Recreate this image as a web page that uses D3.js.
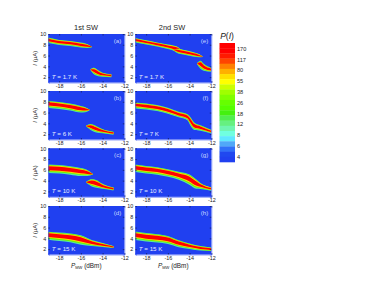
<!DOCTYPE html>
<html>
<head>
<meta charset="utf-8">
<script src="https://cdnjs.cloudflare.com/ajax/libs/d3/7.8.5/d3.min.js"></script>
<style>
body { margin: 0; background: #fff; }
text { font-family: "Liberation Sans", Arial, sans-serif; fill: #222; }
</style>
</head>
<body>
<script>
var powerTicks = [-18, -16, -14, -12];
var currentTicks = [2, 4, 6, 8, 10];
var panelLabels = ["(a)", "(b)", "(c)", "(d)", "(e)", "(f)", "(g)", "(h)"];
var tempLabels = ["1.7 K", "6 K", "10 K", "15 K", "1.7 K", "7 K", "10 K", "15 K"];
var barLabels = [170, 117, 80, 55, 38, 26, 18, 12, 8, 6, 4];
var barColors = ["#ff0000", "#ff0000", "#ff1a00", "#ff4400", "#ff8000", "#ffb000", "#ffe000", "#ffff00", "#ccff00", "#a0ff00", "#80ff00", "#66ff00", "#55ff00", "#44f010", "#50ee50", "#66f080", "#70f5b0", "#70ffe0", "#60e8ff", "#50a8f8", "#3070f8", "#2048f0", "#2040f0"];

// ridge lines: power, current, half width of the glow
var ridgeA = [
  [[-19, -18, -17, -16, -15.4, -15], [8.9, 8.5, 8.3, 8.0, 7.8, 7.6], [0.55, 0.5, 0.5, 0.5, 0.4, 0.05]],
  [[-15.1, -14.8, -14.4, -14, -13.2], [3.4, 3.2, 2.8, 2.5, 2.3], [0.1, 0.65, 0.6, 0.4, 0.3]]
];
var ridgeB = [
  [[-19, -18, -17, -16, -15.6, -15.2], [7.6, 7.4, 7.1, 6.7, 6.6, 6.5], [0.7, 0.7, 0.7, 0.65, 0.5, 0.05]],
  [[-15.5, -15.1, -14.6, -14, -13], [3.5, 3.4, 3.0, 2.6, 2.2], [0.1, 0.6, 0.65, 0.4, 0.3]]
];
var ridgeC = [
  [[-19, -18, -17, -16, -15.4, -14.9], [6.3, 6.2, 6.0, 5.7, 5.5, 5.2], [0.85, 0.85, 0.85, 0.8, 0.6, 0.05]],
  [[-15.5, -15, -14.6, -14, -13], [3.7, 3.7, 3.5, 3.0, 2.5], [0.1, 0.75, 0.8, 0.5, 0.3]]
];
var ridgeD = [
  [[-19, -18, -17, -16, -15, -14, -13], [4.6, 4.4, 4.2, 3.8, 3.2, 2.8, 2.4], [0.8, 0.85, 0.9, 0.95, 0.6, 0.4, 0.2]]
];
var ridgeE = [
  [[-19, -18, -17, -16, -15.2, -14.9], [8.9, 8.5, 8.1, 7.7, 7.35, 7.2], [0.45, 0.42, 0.42, 0.45, 0.45, 0.1]],
  [[-15.5, -15.1, -14.6, -13.7, -13.1, -12.8], [7.1, 6.9, 6.7, 6.3, 6.0, 5.8], [0.1, 0.45, 0.5, 0.45, 0.3, 0.05]],
  [[-13.3, -13, -12.7, -12], [4.5, 4.4, 3.9, 3.4], [0.1, 0.8, 0.7, 0.4]]
];
var ridgeF = [
  [[-19, -18, -17, -16, -15, -14.2, -13.9, -13.6, -13, -12], [7.4, 7.2, 6.9, 6.4, 5.7, 5.2, 4.4, 3.6, 3.2, 2.5], [0.6, 0.6, 0.6, 0.6, 0.55, 0.6, 0.85, 0.75, 0.55, 0.35]]
];
var ridgeG = [
  [[-19, -18, -17, -16, -15, -14, -13.4, -13, -12], [6.4, 6.1, 5.9, 5.5, 5.0, 4.3, 3.5, 3.1, 2.5], [0.75, 0.75, 0.75, 0.75, 0.8, 1.05, 0.95, 0.6, 0.35]]
];
var ridgeH = [
  [[-19, -18, -17, -16, -15, -14, -13, -12], [4.6, 4.3, 4.1, 3.8, 3.1, 2.6, 2.2, 2.0], [0.85, 0.85, 0.85, 0.8, 0.7, 0.55, 0.45, 0.35]]
];
var ridges = [ridgeA, ridgeB, ridgeC, ridgeD, ridgeE, ridgeF, ridgeG, ridgeH];

var layerBelow = [1.05, 0.82, 0.62, 0.42];
var layerAbove = [0.8, 0.7, 0.58, 0.42];
var layerColors = ["#58e8a0", "#70f000", "#ffd800", "#ff0000"];

var svg = d3.select("body").append("svg").attr("width", 382).attr("height", 286);

var defs = svg.append("defs");
defs.append("filter").attr("id", "soft")
  .append("feGaussianBlur").attr("stdDeviation", 0.4);

var panelW = 76, panelH = 48.5;
var tops = [34, 91, 148.3, 206];
var lefts = [48.3, 135.3];

ridges.forEach(function(ridge, n)
{
  var col = n < 4 ? 0 : 1, row = n % 4;
  var x = d3.scaleLinear().domain([-19, -12]).range([0, panelW]);
  var y = d3.scaleLinear().domain([1, 10]).range([panelH, 0]);
  var g = svg.append("g").attr("transform", "translate(" + lefts[col] + "," + tops[row] + ")");
  var clip = "clip" + n;
  defs.append("clipPath").attr("id", clip).append("rect").attr("width", panelW).attr("height", panelH);

  g.append("rect").attr("width", panelW).attr("height", panelH).attr("fill", "#2040f0");

  var marks = g.append("g").attr("clip-path", "url(#" + clip + ")").append("g").attr("filter", "url(#soft)");
  ridge.forEach(function(band)
  {
    var pts = band[0].map(function(p, i) { return { p: p, c: band[1][i], w: band[2][i] }; });
    layerColors.forEach(function(color, k)
    {
      var area = d3.area()
        .x(function(d) { return x(d.p); })
        .y0(function(d) { return y(d.c - d.w * layerBelow[k]); })
        .y1(function(d) { return y(d.c + d.w * layerAbove[k]); })
        .curve(d3.curveMonotoneX);
      marks.append("path").datum(pts).attr("d", area).attr("fill", color);
    });
  });

  var ax = g.append("g").attr("transform", "translate(0," + panelH + ")")
    .call(d3.axisBottom(x).tickValues(powerTicks).tickSize(-1.5).tickPadding(1.5).tickFormat(function(d) { return d; }));
  var ax2 = g.append("g").call(d3.axisTop(x).tickValues(powerTicks).tickSize(-1.5).tickFormat(""));
  var ay = g.append("g").call(d3.axisLeft(y).tickValues(currentTicks).tickSize(-1.5).tickPadding(2));
  var ay2 = g.append("g").attr("transform", "translate(" + panelW + ",0)").call(d3.axisRight(y).tickValues(currentTicks).tickSize(-1.5).tickFormat(""));
  [ax, ax2, ay, ay2].forEach(function(a)
  {
    a.select(".domain").attr("stroke", "#2040f0").attr("stroke-width", 0.5);
    a.selectAll("line").attr("stroke", "#111").attr("stroke-width", 0.5);
    a.selectAll("text").style("font-size", "5.4px").attr("fill", "#222");
  });

  g.append("text").attr("x", panelW - 3).attr("y", 9).attr("text-anchor", "end")
    .style("font-size", "6.2px").style("fill", "#c8d4ff").text(panelLabels[n]);
  var t = g.append("text").attr("x", 3.5).attr("y", panelH - 4).style("font-size", "6.2px").style("fill", "#e8ecff");
  t.append("tspan").style("font-style", "italic").style("fill", "#e8ecff").text("T");
  t.append("tspan").style("fill", "#e8ecff").text(" = " + tempLabels[n]);

  if (col == 0)
  {
    var yl = g.append("text").attr("transform", "translate(-11," + (panelH / 2) + ") rotate(-90)")
      .attr("text-anchor", "middle").style("font-size", "6px");
    yl.append("tspan").style("font-style", "italic").text("I");
    yl.append("tspan").text(" (\u00b5A)");
  }
  if (row == 3)
  {
    var xl = g.append("text").attr("x", panelW / 2).attr("y", panelH + 13).attr("text-anchor", "middle").style("font-size", "6.4px");
    xl.append("tspan").style("font-style", "italic").text("P");
    xl.append("tspan").attr("dy", 1.5).style("font-size", "4px").text("MW");
    xl.append("tspan").attr("dy", -1.5).text(" (dBm)");
  }
});

svg.append("text").attr("x", 86).attr("y", 30).attr("text-anchor", "middle").style("font-size", "7.4px").text("1st SW");
svg.append("text").attr("x", 172).attr("y", 30).attr("text-anchor", "middle").style("font-size", "7.4px").text("2nd SW");

var barY = d3.scaleBand().domain(d3.range(barColors.length)).range([43, 162]);
svg.selectAll("rect.bar").data(barColors).enter().append("rect").attr("class", "bar")
  .attr("x", 219.5).attr("width", 15.5)
  .attr("y", function(d, i) { return barY(i); })
  .attr("height", barY.bandwidth() + 0.3)
  .attr("fill", function(d) { return d; });

var labelY = d3.scalePoint().domain(barLabels).range([48.7, 156.7]);
svg.selectAll("text.barlabel").data(barLabels).enter().append("text").attr("class", "barlabel")
  .attr("x", 237).attr("y", function(d) { return labelY(d) + 2; })
  .style("font-size", "5.6px").text(function(d) { return d; });

var pl = svg.append("text").attr("x", 227).attr("y", 39).attr("text-anchor", "middle").style("font-size", "8.5px");
pl.append("tspan").style("font-style", "italic").text("P");
pl.append("tspan").text("(");
pl.append("tspan").style("font-style", "italic").text("I");
pl.append("tspan").text(")");
</script>
</body>
</html>
